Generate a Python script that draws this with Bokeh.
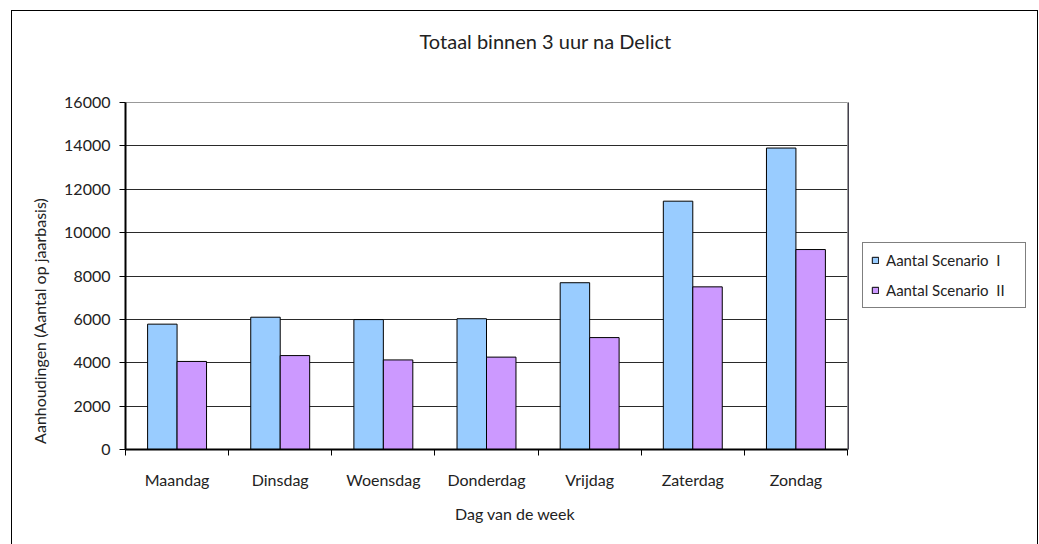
from bokeh.plotting import figure
from bokeh.layouts import row
from bokeh.models import FixedTicker, Legend, LegendItem, Title, ColumnDataSource
from bokeh.embed import file_html
from bokeh.resources import INLINE

days = ["Maandag", "Dinsdag", "Woensdag", "Donderdag", "Vrijdag", "Zaterdag", "Zondag"]
scenario_1 = [5780, 6100, 5990, 6030, 7690, 11450, 13900]
scenario_2 = [4060, 4330, 4130, 4260, 5160, 7500, 9220]
series_names = ["Aantal Scenario  I", "Aantal Scenario  II"]
series_colors = ["#99CCFF", "#CC99FF"]
y_ticks = [0, 2000, 4000, 6000, 8000, 10000, 12000, 14000, 16000]

FONT = "Lato"
TXT = "#222222"
NB = "\u00a0"
bar_w = 1 / 3.5

centers = [i + 0.5 for i in range(len(days))]
src = ColumnDataSource(dict(
    x1=[c - bar_w / 2 for c in centers],
    x2=[c + bar_w / 2 for c in centers],
    s1=scenario_1, s2=scenario_2,
))

p = figure(width=836, height=534, output_backend="svg", toolbar_location=None,
           x_range=(0, len(days)), y_range=(0, 16000),
           min_border_left=113, min_border_right=1, min_border_top=91, min_border_bottom=96)
p.title.text = ""
# spacer between frame and title, then the title itself (stacked outward)
p.add_layout(Title(text=NB, text_font_size="1px", standoff=47), "above")
p.add_layout(Title(text="Totaal binnen 3 uur na Delict", align="left", offset=294,
                   text_font=FONT, text_font_size="20px", text_font_style="normal",
                   text_color=TXT, standoff=0), "above")

p.vbar(x="x1", top="s1", width=bar_w, source=src, fill_color=series_colors[0],
       line_color="#000000", line_width=1)
p.vbar(x="x2", top="s2", width=bar_w, source=src, fill_color=series_colors[1],
       line_color="#000000", line_width=1)

p.outline_line_color = "#999999"
p.outline_line_width = 1
p.xgrid.grid_line_color = None
p.ygrid.grid_line_color = "#2a2a2a"
p.ygrid.grid_line_width = 1
p.ygrid.ticker = FixedTicker(ticks=y_ticks)

xa = p.xaxis[0]
xa.ticker = FixedTicker(ticks=centers, minor_ticks=list(range(len(days) + 1)))
xa.major_label_overrides = {c: d for c, d in zip(centers, days)}
xa.major_tick_line_color = None
xa.major_tick_out = 0
xa.major_tick_in = 0
xa.minor_tick_line_color = "#000000"
xa.minor_tick_out = 6
xa.minor_tick_in = 0
xa.axis_line_color = "#000000"
xa.axis_line_width = 2
xa.major_label_standoff = 14
xa.major_label_text_font = FONT
xa.major_label_text_font_size = "16px"
xa.major_label_text_color = TXT
xa.axis_label = NB * 14 + "Dag van de week"
xa.axis_label_text_font = FONT
xa.axis_label_text_font_size = "16px"
xa.axis_label_text_font_style = "normal"
xa.axis_label_text_color = TXT
xa.axis_label_standoff = 12

ya = p.yaxis[0]
ya.ticker = FixedTicker(ticks=y_ticks, minor_ticks=[])
ya.major_tick_out = 6
ya.major_tick_in = 0
ya.major_tick_line_color = "#000000"
ya.minor_tick_line_color = None
ya.axis_line_color = "#000000"
ya.axis_line_width = 2
ya.major_label_standoff = 9
ya.major_label_text_font = FONT
ya.major_label_text_font_size = "16px"
ya.major_label_text_color = TXT
ya.axis_label = "Aanhoudingen  (Aantal op jaarbasis)" + NB * 21
ya.axis_label_text_font = FONT
ya.axis_label_text_font_size = "16px"
ya.axis_label_text_font_style = "normal"
ya.axis_label_text_color = TXT
ya.axis_label_standoff = 12

# legend panel
q = figure(width=189, height=534, output_backend="svg", toolbar_location=None,
           x_range=(0, 1), y_range=(0, 1), x_axis_location=None, y_axis_location=None,
           min_border_left=0, min_border_right=0, min_border_top=0, min_border_bottom=0)
q.outline_line_color = None
q.xgrid.grid_line_color = None
q.ygrid.grid_line_color = None
lr = [q.vbar(x=[-5], top=[1], width=0.1, fill_color=c, line_color="#000000", line_width=1)
      for c in series_colors]
legend = Legend(items=[LegendItem(label=n.replace("  ", " " + NB), renderers=[r])
                       for n, r in zip(series_names, lr)],
                location=(14, 141), margin=0, padding=8, spacing=12,
                glyph_width=8, glyph_height=8, label_height=18, label_width=131,
                label_standoff=7,
                label_text_font=FONT, label_text_font_size="15px", label_text_color=TXT,
                border_line_color="#000000", border_line_width=1,
                background_fill_color="#ffffff", background_fill_alpha=1.0)
q.add_layout(legend, "center")

layout = row(p, q)
layout.margin = (10, 0, 0, 11)
layout.styles = {"border-top": "1px solid #000", "border-left": "1px solid #000",
                 "border-right": "1px solid #000"}

open("out.html", "w").write(file_html(layout, INLINE))
